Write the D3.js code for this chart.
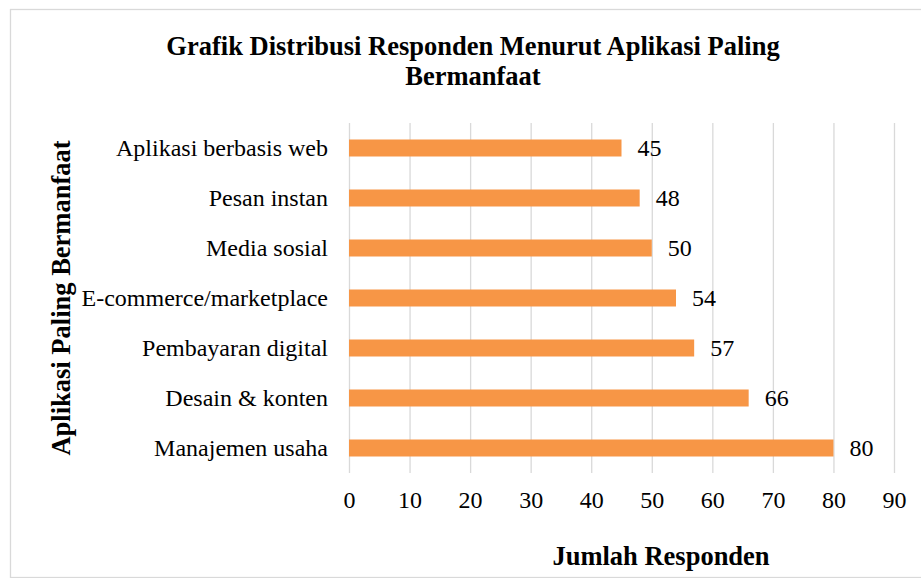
<!DOCTYPE html>
<html>
<head>
<meta charset="utf-8">
<script src="https://cdn.jsdelivr.net/npm/d3@7"></script>
<style>
  body { margin: 0; background: #fff; }
  svg { display: block; font-family: "Liberation Serif", "Times New Roman", serif; }
  .axis .domain { display: none; }
  .grid line { stroke: #d9d9d9; stroke-width: 1.3; }
  .grid text { display: none; }
</style>
</head>
<body>
<svg id="chart" width="921" height="578"></svg>
<script>
// data
var categories = ["Aplikasi berbasis web", "Pesan instan", "Media sosial", "E-commerce/marketplace",
                  "Pembayaran digital", "Desain & konten", "Manajemen usaha"];
var values = [45, 48, 50, 54, 57, 66, 80];
var xTicks = [0, 10, 20, 30, 40, 50, 60, 70, 80, 90];

var width = 921, height = 578;
var margin = {top: 123, right: 27, bottom: 105, left: 349};

var svg = d3.select("#chart");

// chart frame
svg.append("rect")
  .attr("x", 10.5)
  .attr("y", 9.5)
  .attr("width", width)
  .attr("height", height - 10)
  .attr("fill", "none")
  .attr("stroke", "#d9d9d9")
  .attr("stroke-width", 1.3);

var x = d3.scaleLinear()
  .domain([0, 90])
  .range([margin.left, width - margin.right]);

var y = d3.scaleBand()
  .domain(categories)
  .range([margin.top, height - margin.bottom])
  .paddingInner(0.66)
  .paddingOuter(0.33);

// gridlines
svg.append("g")
  .attr("class", "grid")
  .attr("transform", "translate(0," + (height - margin.bottom) + ")")
  .call(d3.axisBottom(x).tickValues(xTicks).tickSize(-(height - margin.bottom - margin.top)))
  .select(".domain").remove();

// bars
svg.append("g")
  .selectAll("rect")
  .data(values)
  .enter()
    .append("rect")
    .attr("x", x(0))
    .attr("y", function(d, i) { return y(categories[i]); })
    .attr("width", function(d) { return x(d) - x(0); })
    .attr("height", y.bandwidth())
    .attr("fill", "#f79646");

// value labels
svg.append("g")
  .selectAll("text")
  .data(values)
  .enter()
    .append("text")
    .attr("x", function(d) { return x(d) + 16; })
    .attr("y", function(d, i) { return y(categories[i]) + y.bandwidth() / 2 + 8; })
    .attr("font-size", 24)
    .attr("fill", "#000")
    .text(function(d) { return d; });

// x axis tick labels
var xa = svg.append("g")
  .attr("class", "axis")
  .attr("transform", "translate(0," + (height - margin.bottom) + ")")
  .call(d3.axisBottom(x).tickValues(xTicks).tickSize(0).tickPadding(0));
xa.selectAll("text")
  .attr("y", 35)
  .attr("dy", 0)
  .attr("font-size", 24)
  .attr("font-family", "Liberation Serif")
  .attr("fill", "#000");

// y axis category labels
var ya = svg.append("g")
  .attr("class", "axis")
  .attr("transform", "translate(" + x(0) + ",0)")
  .call(d3.axisLeft(y).tickSize(0).tickPadding(21));
ya.selectAll("text")
  .attr("dy", 8)
  .attr("font-size", 24)
  .attr("font-family", "Liberation Serif")
  .attr("fill", "#000");

// titles
svg.append("text")
  .attr("x", 473)
  .attr("y", 55)
  .attr("text-anchor", "middle")
  .attr("font-size", 26.5)
  .attr("font-weight", "bold")
  .text("Grafik Distribusi Responden Menurut Aplikasi Paling");

svg.append("text")
  .attr("x", 473)
  .attr("y", 85)
  .attr("text-anchor", "middle")
  .attr("font-size", 26.5)
  .attr("font-weight", "bold")
  .text("Bermanfaat");

svg.append("text")
  .attr("x", 661)
  .attr("y", 565)
  .attr("text-anchor", "middle")
  .attr("font-size", 26.5)
  .attr("font-weight", "bold")
  .text("Jumlah Responden");

svg.append("text")
  .attr("transform", "translate(70," + 298 + ") rotate(-90)")
  .attr("text-anchor", "middle")
  .attr("font-size", 26.5)
  .attr("font-weight", "bold")
  .text("Aplikasi Paling Bermanfaat");
</script>
</body>
</html>
